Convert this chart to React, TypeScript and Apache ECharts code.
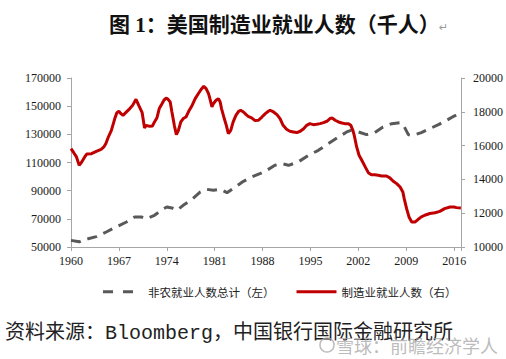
import React, { useEffect, useRef } from "react";
import * as echarts from "echarts";

const titleText = "图 1：美国制造业就业人数（千人）";
const sourceText = "资料来源：Bloomberg，中国银行国际金融研究所";
const watermarkText = "雪球：前瞻经济学人";
const seriesNames = ["非农就业人数总计（左）", "制造业就业人数（右）"];

// 制造业就业人数（右轴，千人）
const mfgYears = [
  1960.0, 1960.4, 1960.8, 1961.2, 1961.5, 1962.0, 1962.3, 1963.0, 1963.7, 1964.4,
  1964.8, 1965.1, 1965.4, 1965.9, 1966.4, 1966.7, 1967.0, 1967.3, 1967.6, 1968.0,
  1968.6, 1969.0, 1969.5, 1969.9, 1970.4, 1970.75, 1971.0, 1971.5, 1971.9, 1972.2,
  1972.55, 1972.9, 1973.3, 1973.6, 1973.9, 1974.1, 1974.5, 1974.75, 1975.1, 1975.4,
  1975.7, 1976.05, 1976.4, 1976.8, 1977.2, 1977.7, 1978.15, 1978.6, 1979.1, 1979.4,
  1979.75, 1980.1, 1980.3, 1980.6, 1980.8, 1981.2, 1981.55, 1981.8, 1982.0, 1982.4,
  1982.7, 1983.0, 1983.35, 1983.7, 1984.1, 1984.5, 1984.8, 1985.2, 1985.6, 1985.9,
  1986.4, 1986.9, 1987.4, 1987.9, 1988.4, 1988.85, 1989.1, 1989.6, 1990.1, 1990.55,
  1991.0, 1991.5, 1992.0, 1992.5, 1993.0, 1993.5, 1994.0, 1994.45, 1994.9, 1995.4,
  1995.9, 1996.4, 1996.9, 1997.4, 1997.85, 1998.2, 1998.6, 1999.1, 1999.6, 2000.0,
  2000.5, 2000.9, 2001.2, 2001.4, 2001.75, 2002.1, 2002.5, 2003.0, 2003.45, 2003.9,
  2004.4, 2004.9, 2005.4, 2006.1, 2006.6, 2007.1, 2007.6, 2008.1, 2008.5, 2008.7,
  2009.05, 2009.4, 2009.8, 2010.3, 2010.75, 2011.2, 2011.7, 2012.45, 2013.2, 2013.9,
  2014.6, 2015.4, 2015.96, 2016.35, 2016.98,
];
const mfgValues = [
  15820, 15580, 15330, 14830, 14990, 15330, 15500, 15520, 15660, 15780,
  15920, 16120, 16450, 16900, 17600, 17950, 18030, 17890, 17790, 17950,
  18190, 18380, 18740, 18380, 17950, 17040, 17200, 17140, 17160, 17400,
  17630, 18190, 18480, 18700, 18800, 18780, 18580, 17990, 17200, 16650,
  16900, 17400, 17600, 17690, 18030, 18380, 18780, 19070, 19370, 19510,
  19370, 19070, 18780, 18290, 18480, 18680, 18780, 18580, 18190, 17600,
  17200, 16710, 16900, 17400, 17790, 18030, 18090, 17990, 17830, 17730,
  17640, 17480, 17500, 17690, 17890, 18030, 18090, 17990, 17830, 17600,
  17200, 16970, 16850, 16810, 16770, 16850, 17000, 17200, 17300, 17240,
  17260, 17300, 17360, 17440, 17600, 17630, 17500, 17400, 17340, 17300,
  17300, 17200, 16900, 16600, 15920, 15430, 15130, 14740, 14400, 14280,
  14280, 14240, 14200, 14200, 14090, 13890, 13750, 13550, 13260, 12860,
  12270, 11780, 11480, 11480, 11640, 11780, 11880, 11980, 12030, 12110,
  12270, 12370, 12370, 12330, 12310,
];

// 非农就业人数总计（左轴，千人）
const nfpYears = [
  1960.0, 1961.2, 1962.0, 1962.5, 1963.7, 1965.15, 1966.6, 1968.1, 1969.3, 1970.3,
  1971.0, 1972.2, 1973.4, 1974.0, 1974.75, 1975.5, 1976.4, 1977.7, 1978.9, 1979.85,
  1980.8, 1981.8, 1982.8, 1984.0, 1985.2, 1986.4, 1987.6, 1988.4, 1989.8, 1990.8,
  1991.8, 1993.2, 1994.7, 1996.15, 1997.6, 1999.1, 2000.3, 2000.9, 2001.75, 2003.2,
  2004.4, 2005.6, 2006.9, 2008.1, 2008.6, 2009.3, 2010.0, 2011.2, 2012.45, 2013.7,
  2014.9, 2016.0, 2016.35,
];
const nfpValues = [
  54700, 53700, 55500, 55900, 57340, 60650, 64200, 67750, 71300, 71300,
  70000, 72490, 76750, 78400, 77700, 76040, 79590, 83850, 89060, 90950,
  90250, 91000, 88590, 92610, 96640, 99710, 102080, 103800, 108000, 109190,
  108000, 110370, 115100, 118650, 123390, 128120, 131670, 132860, 132150, 129780,
  131200, 135220, 137590, 138300, 136400, 129780, 129300, 131200, 134040, 136880,
  139960, 143030, 143500,
];

const xMin = 1960;
const xMax = 2017;
const xInterval = 7;
const leftMin = 50000, leftMax = 170000, leftInterval = 20000;
const rightMin = 10000, rightMax = 20000, rightInterval = 2000;

const zip = (xs: number[], ys: number[]) => xs.map((x, i) => [x, ys[i]]);

export default function App() {
  const ref = useRef<HTMLDivElement>(null);
  useEffect(() => {
    if (!ref.current) return;
    const chart = echarts.init(ref.current, null, { renderer: "svg" });
    const axisColor = "#A6A6A6";
    const labelFont = {
      fontFamily: "Liberation Serif",
      fontSize: 12,
      color: "#1a1a1a",
    };
    const plain = (v: number) => String(v);
    chart.setOption({
      animation: false,
      backgroundColor: "#ffffff",
      grid: { left: 71, right: 45, top: 78, bottom: 112, containLabel: false },
      legend: {
        left: 98,
        top: 281,
        itemWidth: 40,
        itemHeight: 3,
        itemGap: 22,
        textStyle: { fontFamily: "Noto Sans CJK SC", fontSize: 11.5, color: "#222" },
        data: [
          {
            name: seriesNames[0],
            icon: "path://M0,0h10v3h-10zM20,0h10v3h-10zM39.9,0h0.1v0.1h-0.1z",
            itemStyle: { color: "#595959" },
          },
          {
            name: seriesNames[1],
            icon: "path://M0,0h40v3h-40z",
            itemStyle: { color: "#C00000" },
          },
        ],
      },
      xAxis: {
        type: "value",
        min: xMin,
        max: xMax,
        interval: xInterval,
        splitLine: { show: false },
        axisLine: { show: true, lineStyle: { color: axisColor, width: 1 } },
        axisTick: { show: true, length: 4, lineStyle: { color: axisColor } },
        axisLabel: {
          ...labelFont,
          margin: 8,
          formatter: (v: number) => (v % xInterval === 0 ? String(v) : ""),
        },
      },
      yAxis: [
        {
          type: "value",
          min: leftMin,
          max: leftMax,
          interval: leftInterval,
          splitLine: { show: false },
          axisLine: { show: true, lineStyle: { color: axisColor, width: 1 } },
          axisTick: { show: true, length: 4, lineStyle: { color: axisColor } },
          axisLabel: { ...labelFont, margin: 10, formatter: plain },
        },
        {
          type: "value",
          min: rightMin,
          max: rightMax,
          interval: rightInterval,
          position: "right",
          splitLine: { show: false },
          axisLine: { show: true, lineStyle: { color: axisColor, width: 1 } },
          axisTick: { show: true, length: 4, lineStyle: { color: axisColor } },
          axisLabel: { ...labelFont, margin: 12, formatter: plain },
        },
      ],
      series: [
        {
          name: seriesNames[0],
          type: "line",
          yAxisIndex: 0,
          data: zip(nfpYears, nfpValues),
          symbol: "none",
          lineStyle: { color: "#595959", width: 3, type: [10, 7], cap: "butt" },
          itemStyle: { color: "#595959" },
        },
        {
          name: seriesNames[1],
          type: "line",
          yAxisIndex: 1,
          data: zip(mfgYears, mfgValues),
          symbol: "none",
          lineStyle: { color: "#C00000", width: 3 },
          itemStyle: { color: "#C00000" },
        },
      ],
      graphic: [
        {
          type: "text",
          left: 109,
          top: 14,
          style: {
            text: titleText,
            fontFamily: "'Liberation Serif', 'Noto Sans CJK SC'",
            fontWeight: "bold",
            fontSize: 21,
            fill: "#111",
          },
        },
        {
          type: "text",
          left: 439,
          top: 22,
          style: { text: "↵", fontSize: 11, fill: "#9a9a9a", fontFamily: "DejaVu Sans" },
        },
        {
          type: "text",
          left: 5,
          top: 323,
          style: {
            text: sourceText,
            fontFamily: "'Liberation Mono', 'Noto Sans CJK SC'",
            fontSize: 20,
            fill: "#222",
          },
        },
        {
          type: "circle",
          shape: { cx: 327, cy: 345, r: 7 },
          style: { fill: "none", stroke: "rgba(170,170,170,0.8)", lineWidth: 1.5 },
        },
        {
          type: "text",
          left: 336,
          top: 336,
          style: {
            text: watermarkText,
            fontFamily: "Noto Sans CJK SC",
            fontSize: 18,
            fill: "rgba(165,165,165,0.75)",
          },
        },
      ],
    });
    return () => chart.dispose();
  }, []);
  return (
    <div
      ref={ref}
      style={{ position: "fixed", left: 0, top: 0, width: 506, height: 359 }}
    />
  );
}
